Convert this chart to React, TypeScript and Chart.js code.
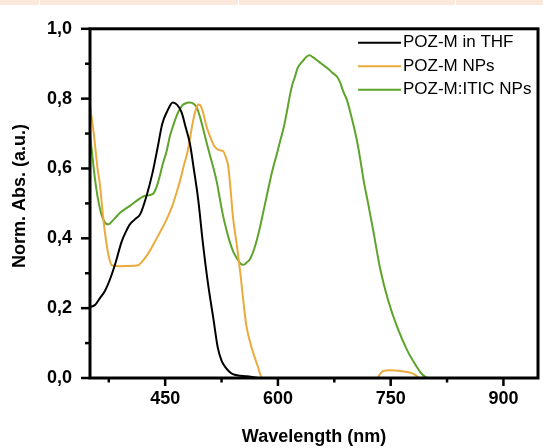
import React, { useEffect, useRef } from 'react';
import { Chart, registerables } from 'chart.js';

Chart.register(...registerables);

// ---- data ----
const seriesLabels = ['POZ-M in THF', 'POZ-M NPs', 'POZ-M:ITIC NPs'];
const seriesColors = ['#000000', '#eaaa3c', '#5ea42a'];

const thfWavelength = [350, 357, 363, 370, 377, 384, 392, 398, 403, 410, 417, 425, 433, 440, 446, 453, 460, 466, 472, 477, 483, 488, 494, 500, 507, 514, 520, 525, 530, 540, 559, 576, 946];
const thfAbs = [0.203, 0.21, 0.228, 0.25, 0.285, 0.33, 0.39, 0.42, 0.44, 0.455, 0.47, 0.52, 0.586, 0.66, 0.727, 0.765, 0.789, 0.782, 0.76, 0.72, 0.67, 0.6, 0.51, 0.39, 0.27, 0.172, 0.087, 0.05, 0.031, 0.011, 0.005, 0, 0];

const npsWavelength = [350, 355, 360, 363, 368, 373, 379, 390, 400, 413, 420, 426, 435, 443, 451, 459, 465, 470, 475, 480, 487, 491, 494, 497, 500, 505, 510, 515, 519, 523, 527, 531, 534, 537, 540, 546, 550, 554, 558, 566, 573, 579, 732, 736, 740, 750, 760, 770, 778, 784, 788, 946];
const npsAbs = [0.78, 0.7, 0.6, 0.557, 0.45, 0.37, 0.323, 0.32, 0.321, 0.322, 0.335, 0.352, 0.385, 0.417, 0.45, 0.49, 0.53, 0.567, 0.61, 0.65, 0.735, 0.77, 0.783, 0.78, 0.764, 0.72, 0.69, 0.665, 0.656, 0.652, 0.65, 0.63, 0.605, 0.54, 0.465, 0.37, 0.3, 0.22, 0.15, 0.08, 0.035, 0, 0, 0.012, 0.02, 0.022, 0.021, 0.018, 0.014, 0.007, 0, 0];

const iticWavelength = [350, 353, 356, 360, 365, 370, 374, 382, 390, 403, 417, 423, 430, 435, 439, 443, 447, 452, 456, 461, 466, 470, 474, 479, 483, 488, 492, 496, 500, 505, 510, 515, 519, 523, 527, 532, 536, 541, 546, 550, 554, 558, 563, 570, 576, 581, 586, 590, 594, 599, 603, 608, 612, 616, 619, 623, 626, 630, 634, 638, 642, 647, 652, 658, 666, 672, 679, 683, 687, 692, 696, 701, 706, 710, 714, 720, 727, 736, 747, 759, 772, 785, 790, 796, 800, 946];
const iticAbs = [0.7, 0.64, 0.58, 0.52, 0.47, 0.445, 0.44, 0.455, 0.473, 0.493, 0.515, 0.522, 0.524, 0.53, 0.55, 0.58, 0.614, 0.65, 0.69, 0.725, 0.755, 0.772, 0.783, 0.788, 0.789, 0.785, 0.775, 0.75, 0.718, 0.675, 0.634, 0.595, 0.558, 0.51, 0.465, 0.42, 0.389, 0.36, 0.341, 0.328, 0.324, 0.33, 0.341, 0.38, 0.43, 0.48, 0.53, 0.57, 0.606, 0.645, 0.679, 0.72, 0.763, 0.81, 0.839, 0.865, 0.887, 0.9, 0.91, 0.92, 0.924, 0.918, 0.91, 0.9, 0.887, 0.875, 0.862, 0.845, 0.82, 0.795, 0.763, 0.72, 0.67, 0.62, 0.566, 0.5, 0.42, 0.313, 0.22, 0.144, 0.079, 0.031, 0.015, 0.003, 0, 0];

const xMajorTicks = [450, 600, 750, 900];
const xMinorTicks = [375, 525, 675, 825];
const yMajorTicks = [0, 0.2, 0.4, 0.6, 0.8, 1.0];
const yMinorTicks = [0.1, 0.3, 0.5, 0.7, 0.9];

const xMin = 350;
const xMax = 946;

const FONT = '"Liberation Sans", Arial, Helvetica, sans-serif';

const isMajor = (list: number[], v: number) => list.some((m) => Math.abs(m - v) < 1e-6);
const fmtY = (v: number) => v.toFixed(1).replace('.', ',');

const toPoints = (xs: number[], ys: number[]) => xs.map((x, i) => ({ x, y: ys[i] }));

const framePlugin = {
  id: 'frameAndLegend',
  afterDatasetsDraw(chart: any) {
    const { ctx, chartArea: a, scales } = chart;
    const xs = scales.x;
    const ys = scales.y;
    const seg = (x1: number, y1: number, x2: number, y2: number) => {
      ctx.beginPath();
      ctx.moveTo(x1, y1);
      ctx.lineTo(x2, y2);
      ctx.stroke();
    };
    ctx.save();
    ctx.strokeStyle = '#000';
    ctx.lineWidth = 3;
    ctx.strokeRect(a.left, a.top, a.right - a.left, a.bottom - a.top);
    ctx.lineWidth = 2.5;
    xMajorTicks.forEach((v) => { const p = xs.getPixelForValue(v); seg(p, a.bottom, p, a.bottom + 8); });
    xMinorTicks.forEach((v) => { const p = xs.getPixelForValue(v); seg(p, a.bottom, p, a.bottom + 4.5); });
    yMajorTicks.forEach((v) => { const p = ys.getPixelForValue(v); seg(a.left - 9, p, a.left, p); });
    yMinorTicks.forEach((v) => { const p = ys.getPixelForValue(v); seg(a.left - 5, p, a.left, p); });

    // legend inside plot, top right
    ctx.font = '17px ' + FONT;
    ctx.textBaseline = 'middle';
    ctx.textAlign = 'left';
    chart.data.datasets.forEach((ds: any, i: number) => {
      const yy = a.top + 14 + i * 23.5;
      ctx.strokeStyle = ds.borderColor;
      ctx.lineWidth = 2;
      seg(a.right - 180, yy, a.right - 137, yy);
      ctx.fillStyle = '#000';
      ctx.fillText(ds.label, a.right - 135, yy);
    });
    ctx.restore();
  },
};

export default function App() {
  const canvasRef = useRef<HTMLCanvasElement | null>(null);

  useEffect(() => {
    if (!canvasRef.current) return;
    const series = [
      toPoints(thfWavelength, thfAbs),
      toPoints(npsWavelength, npsAbs),
      toPoints(iticWavelength, iticAbs),
    ];
    const chart = new Chart(canvasRef.current, {
      type: 'line',
      data: {
        datasets: series.map((pts, i) => ({
          label: seriesLabels[i],
          data: pts,
          borderColor: seriesColors[i],
          backgroundColor: seriesColors[i],
          borderWidth: 2,
          pointRadius: 0,
          fill: false,
          tension: 0,
          cubicInterpolationMode: 'monotone' as const,
        })),
      },
      options: {
        responsive: false,
        animation: false,
        layout: { padding: { top: 22, right: 5, left: 0, bottom: 0 } },
        plugins: { legend: { display: false }, tooltip: { enabled: false } },
        scales: {
          x: {
            type: 'linear',
            min: xMin,
            max: xMax,
            afterBuildTicks: (s: any) => {
              s.ticks = [...xMinorTicks, ...xMajorTicks].sort((p, q) => p - q).map((v) => ({ value: v }));
            },
            afterFit: (s: any) => { s.height = 70; },
            grid: { display: false, drawTicks: false },
            border: { display: false },
            ticks: {
              autoSkip: false,
              maxRotation: 0,
              padding: 10,
              color: '#000',
              font: { family: FONT, size: 18, weight: 'bold' },
              callback: (v: any) => (isMajor(xMajorTicks, Number(v)) ? String(v) : ''),
            },
            title: {
              display: true,
              text: 'Wavelength (nm)',
              color: '#000',
              font: { family: FONT, size: 18, weight: 'bold' },
              padding: { top: 0, bottom: 0 },
            },
          },
          y: {
            type: 'linear',
            min: 0,
            max: 1,
            afterBuildTicks: (s: any) => {
              s.ticks = [...yMinorTicks, ...yMajorTicks].sort((p, q) => p - q).map((v) => ({ value: v }));
            },
            afterFit: (s: any) => { s.width = 90; },
            grid: { display: false, drawTicks: false },
            border: { display: false },
            ticks: {
              autoSkip: false,
              padding: 18,
              color: '#000',
              font: { family: FONT, size: 18, weight: 'bold' },
              callback: (v: any) => (isMajor(yMajorTicks, Number(v)) ? fmtY(Number(v)) : ''),
            },
            title: {
              display: true,
              text: '   Norm. Abs. (a.u.)',
              color: '#000',
              font: { family: FONT, size: 18, weight: 'bold' },
              padding: { top: 9, bottom: 0 },
            },
          },
        },
      },
      plugins: [framePlugin],
    });
    return () => chart.destroy();
  }, []);

  const stripSegs = [39, 198, 216, 87];
  return (
    <div style={{ position: 'fixed', left: 0, top: 0, width: 543, height: 448, background: '#fff', overflow: 'hidden' }}>
      <div style={{ position: 'absolute', left: 0, top: 0, width: 543, height: 5, display: 'flex' }}>
        {stripSegs.map((w, i) => (
          <div key={i} style={{ width: w, height: 5, background: '#fce8da', marginRight: i < stripSegs.length - 1 ? 1 : 0 }} />
        ))}
      </div>
      <canvas ref={canvasRef} width={543} height={448} style={{ position: 'absolute', left: 0, top: 0 }} />
    </div>
  );
}
